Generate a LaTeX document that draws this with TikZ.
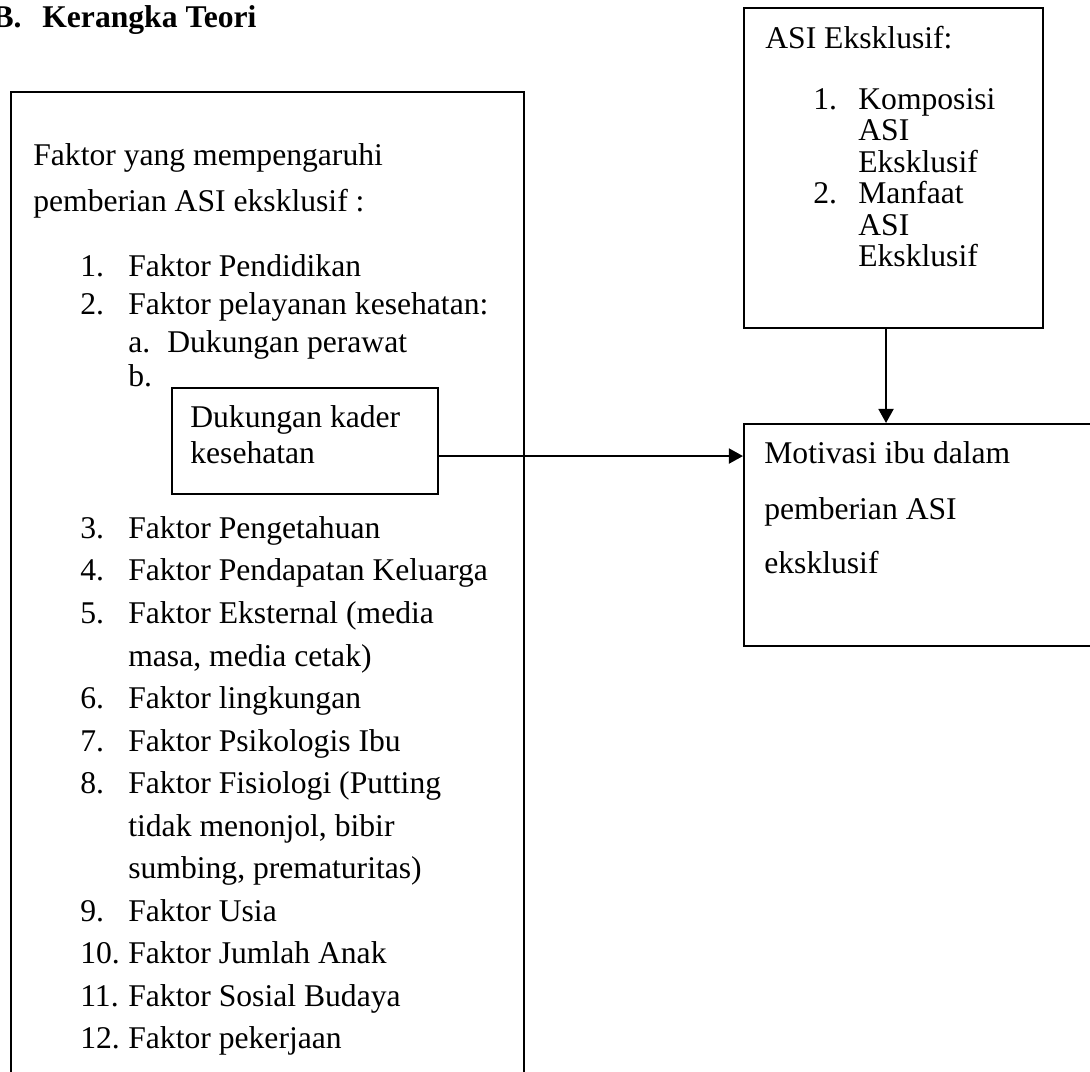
\documentclass[tikz,border=0pt]{standalone}
\usepackage{fontspec}
\setmainfont{Liberation Serif}
\usetikzlibrary{arrows.meta, positioning}

\begin{document}
\begin{tikzpicture}[x=0.02cm, y=-0.02cm,
      txt/.style={anchor=base west, inner sep=0pt, font=\fontsize{18}{21}\selectfont},
      blk/.style={draw, line width=1.2pt, anchor=north west, inner sep=0pt},
      arr/.style={-{Triangle[length=8pt, width=8.5pt]}, line width=1.2pt}]
      \useasboundingbox (0,0) rectangle (1090,1072);
      % judul
      \node[txt, anchor=base east] (judulno) at (22,27) {\bfseries B.};
      \node[txt] (judul) at (42,27) {\bfseries Kerangka Teori};
      % kotak-kotak
      \node[blk, minimum width=10.26cm, minimum height=20.4cm] (faktor) at (10,91) {};
      \node[blk, minimum width=5.32cm, minimum height=2.12cm] (kader) at (171,387) {};
      \node[blk, minimum width=5.98cm, minimum height=6.4cm] (asi) at (743,7) {};
      \node[blk, minimum width=7.8cm, minimum height=4.44cm] (motiv) at (743,423) {};
      % isi kotak faktor
      \node[txt] (fhead1) at (33,165) {Faktor yang mempengaruhi};
      \node[txt] (fhead2) at (33,211) {pemberian ASI eksklusif :};
      \node[txt] (no1)  at (80,276) {1.};
      \node[txt] (it1)  at (128,276) {Faktor Pendidikan};
      \node[txt] (no2)  at (80,314) {2.};
      \node[txt] (it2)  at (128,314) {Faktor pelayanan kesehatan:};
      \node[txt] (noa)  at (128,352) {a.};
      \node[txt] (ita)  at (167,352) {Dukungan perawat};
      \node[txt] (nob)  at (128,386) {b.};
      \node[txt] (kd1)  at (190,427) {Dukungan kader};
      \node[txt] (kd2)  at (190,463) {kesehatan};
      \node[txt] (no3)  at (80,538) {3.};
      \node[txt] (it3)  at (128,538) {Faktor Pengetahuan};
      \node[txt] (no4)  at (80,580) {4.};
      \node[txt] (it4)  at (128,580) {Faktor Pendapatan Keluarga};
      \node[txt] (no5)  at (80,623) {5.};
      \node[txt] (it5)  at (128,623) {Faktor Eksternal (media};
      \node[txt] (it5b) at (128,666) {masa, media cetak)};
      \node[txt] (no6)  at (80,708) {6.};
      \node[txt] (it6)  at (128,708) {Faktor lingkungan};
      \node[txt] (no7)  at (80,751) {7.};
      \node[txt] (it7)  at (128,751) {Faktor Psikologis Ibu};
      \node[txt] (no8)  at (80,793) {8.};
      \node[txt] (it8)  at (128,793) {Faktor Fisiologi (Putting};
      \node[txt] (it8b) at (128,836) {tidak menonjol, bibir};
      \node[txt] (it8c) at (128,878) {sumbing, prematuritas)};
      \node[txt] (no9)  at (80,921) {9.};
      \node[txt] (it9)  at (128,921) {Faktor Usia};
      \node[txt] (no10) at (80,963) {10.};
      \node[txt] (it10) at (128,963) {Faktor Jumlah Anak};
      \node[txt] (no11) at (80,1006) {11.};
      \node[txt] (it11) at (128,1006) {Faktor Sosial Budaya};
      \node[txt] (no12) at (80,1048) {12.};
      \node[txt] (it12) at (128,1048) {Faktor pekerjaan};
      % isi kotak ASI
      \node[txt] (ahead) at (765,48) {ASI Eksklusif:};
      \node[txt] (ano1) at (813,109) {1.};
      \node[txt] (ait1) at (858,109) {Komposisi};
      \node[txt] (ait1b) at (858,140.5) {ASI};
      \node[txt] (ait1c) at (858,172) {Eksklusif};
      \node[txt] (ano2) at (813,203.5) {2.};
      \node[txt] (ait2) at (858,203.5) {Manfaat};
      \node[txt] (ait2b) at (858,235) {ASI};
      \node[txt] (ait2c) at (858,266.5) {Eksklusif};
      % isi kotak motivasi
      \node[txt] (mot1) at (764,463) {Motivasi ibu dalam};
      \node[txt] (mot2) at (764,519) {pemberian ASI};
      \node[txt] (mot3) at (764,573) {eksklusif};
      % panah
      \coordinate (asiout) at ([xshift=-0.15cm]asi.south);
      \coordinate (kaderout) at ([yshift=-0.3cm]kader.east);
      \draw[arr] (asiout) -- (asiout |- motiv.north);
      \draw[arr] (kaderout) -- (kaderout -| motiv.west);
    \end{tikzpicture}
\end{document}
